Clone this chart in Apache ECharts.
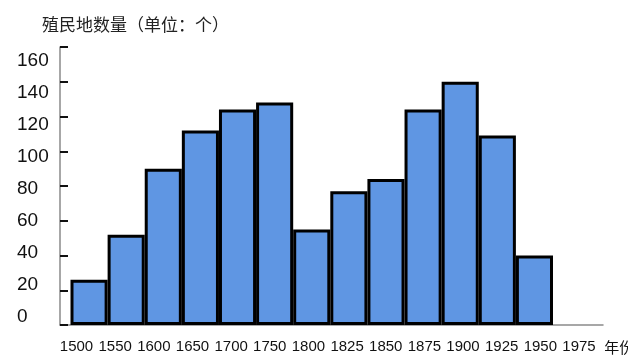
<!DOCTYPE html>
<html><head><meta charset="utf-8">
<script src="https://cdn.jsdelivr.net/npm/echarts@6/dist/echarts.min.js"></script>
<style>html,body{margin:0;padding:0;background:#fff}#c{width:628px;height:359px}</style>
</head><body><div id="c"></div>
<script>
const categories = ['1500','1550','1600','1650','1700','1750','1800','1825','1850','1875','1900','1925','1950'];
const values = [26, 52, 90, 112, 124, 128, 55, 77, 84, 124, 140, 109, 40];
const xTickLabels = ['1500','1550','1600','1650','1700','1750','1800','1825','1850','1875','1900','1925','1950','1975'];
const titleText = '殖民地数量（单位：个）';
const xName = '年份';

const chart = echarts.init(document.getElementById('c'), null, {renderer: 'canvas'});
const FONT = '"Liberation Sans", Arial, sans-serif';
const G = {outerBoundsMode: 'none', containLabel: false};
chart.setOption({
  animation: false,
  title: {text: titleText, left: 37, top: 11,
    textStyle: {fontSize: 17, fontWeight: 'normal', color: '#222', fontFamily: '"Noto Sans CJK SC", sans-serif'}},
  grid: [
    Object.assign({left: 70.5, width: 482.5, top: 47, bottom: 34}, G),
    Object.assign({left: 60, right: 25, top: 47, bottom: 34}, G),
    Object.assign({left: 61, right: 25, top: 61, bottom: 42}, G),
    Object.assign({left: 57.2, width: 541.1, top: 200, bottom: 12}, G)
  ],
  xAxis: [
    {gridIndex: 0, type: 'category', data: categories, show: false},
    {gridIndex: 1, type: 'value', min: 0, max: 1, axisLine: {show: true, onZero: false, lineStyle: {color: '#8a8a8a', width: 1.5}},
      axisTick: {show: false}, axisLabel: {show: false}, splitLine: {show: false}},
    {gridIndex: 2, type: 'value', show: false},
    {gridIndex: 3, type: 'category', data: xTickLabels, axisLine: {show: false}, axisTick: {show: false},
      axisLabel: {margin: 0, verticalAlign: 'middle', fontSize: 15, color: '#111', fontFamily: FONT, interval: 0},
      name: xName, nameLocation: 'end', nameGap: 6,
      nameTextStyle: {fontSize: 15, color: '#111', fontFamily: '"Noto Sans CJK SC", sans-serif', verticalAlign: 'middle', align: 'left'}}
  ],
  yAxis: [
    {gridIndex: 0, type: 'value', min: 0, max: 160, show: false},
    {gridIndex: 1, type: 'value', min: 0, max: 160, interval: 20,
      axisLine: {show: true, lineStyle: {color: '#8a8a8a', width: 1.5}},
      axisTick: {show: true, inside: true, length: 8, lineStyle: {color: '#111', width: 2}},
      axisLabel: {show: false}, splitLine: {show: false}},
    {gridIndex: 2, type: 'value', min: 0, max: 160, interval: 20,
      axisLine: {show: false}, axisTick: {show: false}, splitLine: {show: false},
      axisLabel: {align: 'left', margin: 44, fontSize: 19, color: '#111', fontFamily: FONT}},
    {gridIndex: 3, type: 'value', show: false}
  ],
  series: [{
    type: 'bar', xAxisIndex: 0, yAxisIndex: 0, data: values,
    barCategoryGap: '0%', z: 5,
    itemStyle: {color: '#5f96e3', borderColor: '#000', borderWidth: 3}
  }]
});
</script></body></html>
